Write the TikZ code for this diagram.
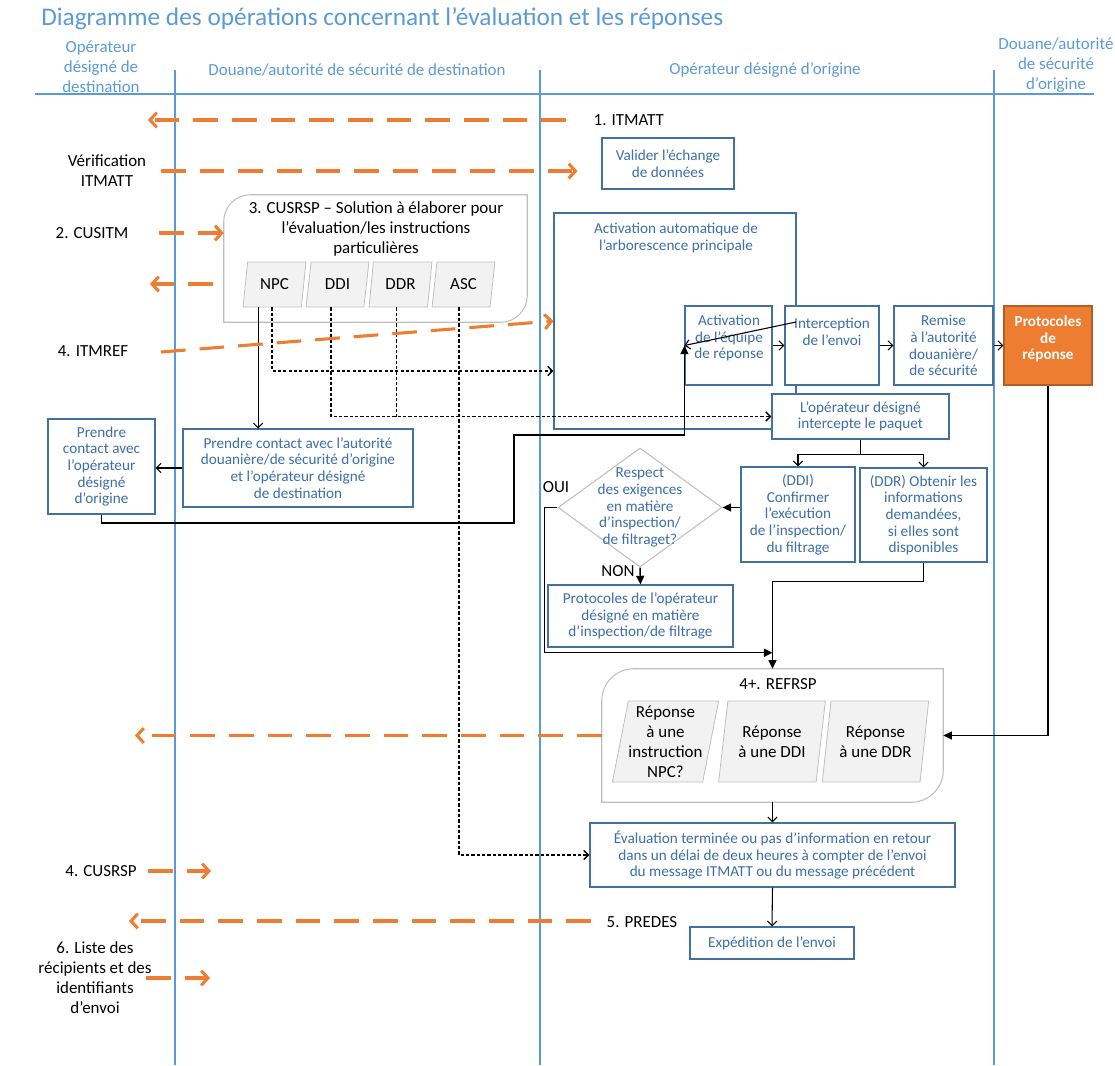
\documentclass[tikz,border=0pt]{standalone}
\usepackage{fontspec}
\setmainfont{Carlito}
\usetikzlibrary{arrows.meta,shapes.geometric,calc}

\definecolor{lanecol}{HTML}{5B9BD5}
\definecolor{boxcol}{HTML}{41719C}
\definecolor{txtcol}{HTML}{3D6FA8}
\definecolor{orangecol}{HTML}{ED7D31}
\definecolor{greyfill}{HTML}{F2F2F2}
\definecolor{greyline}{HTML}{BFBFBF}

\newcommand{\bluesize}{\fontsize{11.4}{12.5}\selectfont}
\newcommand{\lblsize}{\fontsize{12.7}{15}\selectfont}

\begin{document}
\begin{tikzpicture}[x=0.75pt, y=-0.75pt,
	lane/.style={draw=lanecol, line width=0.9pt},
	lanehead/.style={text=lanecol, align=center, font=\lblsize},
	box size/.style 2 args={minimum width=#1*0.75pt, minimum height=#2*0.75pt},
	opbox/.style={draw=boxcol, fill=white, text=txtcol, align=center, font=\bluesize, inner sep=0pt, line width=0.8pt},
	txt/.style={text=txtcol, align=center, font=\bluesize, inner sep=0pt},
	lbl/.style={align=center, font=\lblsize},
	para/.style={trapezium, trapezium left angle=77.5, trapezium right angle=102.5, trapezium stretches=true, draw=greyline, fill=greyfill, font=\lblsize, align=center, inner sep=0pt, line width=0.6pt},
	cframe/.style={draw=greyline, line width=0.8pt},
	msg/.style={draw=orangecol, line width=2.3pt, dash pattern=on 18.5pt off 10.5pt, -{Straight Barb[length=5pt,width=11pt]}},
	flow/.style={draw=black, line width=0.8pt, -{Straight Barb[length=3.5pt,width=7pt]}},
	flowb/.style={draw=black, line width=1.1pt, -{Triangle[length=6.5pt,width=6pt]}},
	dots/.style={draw=black, line width=1.1pt, dash pattern=on 2.4pt off 1.6pt},
	dotflow/.style={dots, -{Straight Barb[length=3.5pt,width=7pt]}}
]
	\useasboundingbox (0,0) rectangle (1115,1065);

	% Titre et couloirs
	\node[font=\fontsize{19}{22}\selectfont, text=lanecol, anchor=west, inner sep=0pt] (title) at (41,19) {Diagramme des opérations concernant l’évaluation et les réponses};
	\draw[lane] (35,94) -- (1094,94);
	\draw[lane] (175,70) -- (175,1065);
	\draw[lane] (540,70) -- (540,1065);
	\draw[lane] (994,70) -- (994,1065);

	\node[lanehead] (hdest) at (101,67) {Opérateur\\désigné de\\destination};
	\node[lanehead] (hdouane) at (357,70) {Douane/autorité de sécurité de destination};
	\node[lanehead] (horig) at (765,70) {Opérateur désigné d’origine};
	\node[lanehead] (hdouorig) at (1056,65) {Douane/autorité\\de sécurité\\d’origine};

	% Messages (textes)
	\node[lbl, anchor=west] (itmatt) at (589,120) {1. ITMATT};
	\node[lbl] (verif) at (107,171) {Vérification\\ITMATT};
	\node[lbl] (cusitm) at (92,233) {2. CUSITM};
	\node[lbl] (itmref) at (93,351) {4. ITMREF};
	\node[lbl] (cusrsp) at (101,871) {4. CUSRSP};
	\node[lbl, anchor=west] (predes) at (602,922) {5. PREDES};
	\node[lbl] (liste) at (95,978) {6. Liste des\\récipients et des\\identifiants\\d’envoi};

	% CUSRSP
	\node[box size={303}{127}] (cusbox) at (375.5,258.5) {};
	\draw[cframe] (cusbox.north east) [rounded corners=20pt] -- (cusbox.south east) [sharp corners] -- (cusbox.south west) [rounded corners=20pt] -- (cusbox.north west) [sharp corners] -- cycle;
	\node[lbl] (custitle) at (376,229) {3. CUSRSP – Solution à élaborer pour\\l’évaluation/les instructions\\particulières};
	\node[para, box size={63}{45}] (npc) at (274.5,284.5) {NPC};
	\node[para, box size={63}{45}] (ddipar) at (337.5,284.5) {DDI};
	\node[para, box size={63}{45}] (ddrpar) at (400.5,284.5) {DDR};
	\node[para, box size={63}{45}] (asc) at (463.5,284.5) {ASC};

	% Boites
	\node[opbox, box size={132}{51}] (valider) at (668,163.5) {Valider l’échange\\de données};
	\node[opbox, box size={242}{216}] (autoact) at (675,321) {};
	\node[txt] (autoacttxt) at (676,238) {Activation automatique de\\l’arborescence principale};
	\node[opbox, box size={87}{79}] (equipe) at (728.5,345.5) {};
	\node[txt] (equipetxt) at (729,338) {Activation\\de l’équipe\\de réponse};
	\node[opbox, box size={94}{79}] (intercept) at (832,345.5) {};
	\node[txt] (intercepttxt) at (832,331.5) {Interception\\de l’envoi};
	\node[opbox, box size={99}{79}] (remise) at (943.5,345.5) {Remise\\à l’autorité\\douanière/\\de sécurité};
	\node[opbox, box size={88}{79}, fill=orangecol, draw=orangecol!75!black] (protoresp) at (1048,345.5) {};
	\node[txt, text=white, font=\bluesize\bfseries] (protoresptxt) at (1048,339) {Protocoles\\de\\réponse};
	\node[opbox, box size={177}{45}] (paquet) at (860.5,416.5) {L’opérateur désigné\\intercepte le paquet};
	\node[opbox, box size={230}{78}] (contactaut) at (298,468) {Prendre contact avec l’autorité\\douanière/de sécurité d’origine\\et l’opérateur désigné\\de destination};
	\node[opbox, box size={107}{95}] (contactop) at (101.5,466.5) {Prendre\\contact avec\\l’opérateur\\désigné\\d’origine};
	\node[opbox, box size={114}{95}] (confddi) at (798,514.5) {(DDI)\\Confirmer\\l’exécution\\de l’inspection/\\du filtrage};
	\node[opbox, box size={127}{94}] (obtddr) at (923.5,515) {(DDR) Obtenir les\\informations\\demandées,\\si elles sont\\disponibles};
	\node[diamond, draw=greyline, box size={164}{119}, inner sep=0pt, line width=0.8pt] (respect) at (640,507.5) {};
	\node[txt] (respecttxt) at (640,507.5) {Respect\\des exigences\\en matière\\d’inspection/\\de filtraget?};
	\node[lbl] (oui) at (556,487) {OUI};
	\node[lbl] (non) at (618,571) {NON};
	\node[opbox, box size={185}{62}] (protoop) at (640.5,616) {Protocoles de l’opérateur\\désigné en matière\\d’inspection/de filtrage};

	% REFRSP
	\node[box size={341}{133}] (refbox) at (772.5,735.5) {};
	\draw[cframe] (refbox.north east) [rounded corners=24pt] -- (refbox.south east) [sharp corners] -- (refbox.south west) [rounded corners=24pt] -- (refbox.north west) [sharp corners] -- cycle;
	\node[lbl] (reftitle) at (778,684) {4+. REFRSP};
	\node[para, box size={107}{81}] (repnpc) at (665.5,741.5) {Réponse\\à une\\instruction\\NPC?};
	\node[para, box size={107}{81}] (repddi) at (772,741.5) {Réponse\\à une DDI};
	\node[para, box size={107}{81}] (repddr) at (875.5,741.5) {Réponse\\à une DDR};

	\node[opbox, box size={365}{64}] (eval) at (772.5,855) {Évaluation terminée ou pas d’information en retour\\dans un délai de deux heures à compter de l’envoi\\du message ITMATT ou du message précédent};
	\node[opbox, box size={164}{32}] (expe) at (772,943) {Expédition de l’envoi};

	% Liaisons
	\coordinate (npcline) at ($(npc.bottom side)+(-14,0)$);
	\coordinate (ddiline) at ($(ddipar.bottom side)+(-4,0)$);
	\coordinate (ddrline) at ($(ddrpar.bottom side)+(-2,0)$);
	\coordinate (ascline) at ($(asc.bottom side)+(-2,0)$);
	\draw[flow] (npcline) -- (npcline |- contactaut.north);
	\draw[dotflow] (npc.bottom side) |- ($(autoact.west)+(0,50)$);
	\draw[dotflow] (ddiline) |- (paquet.west);
	\draw[dots] (ddrline) -- (ddrline |- paquet.west);
	\draw[dotflow] (ascline) |- (eval.west);

	\draw[flow] (contactaut.west) -- (contactaut.west -| contactop.east);
	\coordinate (oprise) at (514,435);
	\draw[flowb] (contactop.south) -- ++(0,8.5) -| (oprise) -| (equipe.west);
	\coordinate (diagfrom) at (796,322);
	\draw[flow] (diagfrom) -- (equipe.west);
	\draw[flow] (equipe.east) -- (intercept.west);
	\draw[flow] (intercept.east) -- (remise.west);
	\draw[flow] (remise.east) -- (protoresp.west);

	\draw[flow] (paquet.south) -- ++(0,14.5) -| (confddi.north);
	\draw[flow] (paquet.south) -- ++(0,14.5) -| (obtddr.north);
	\draw[flowb] (confddi.west |- respect.east) -- (respect.east);
	\draw[flowb] (respect.west) -- ++(-13,0) |- ($(refbox.north)+(0,-16)$);
	\draw[flowb] (obtddr.south) -- ++(0,19) -| (refbox.north);
	\draw[flowb] (respect.south) -- (protoop.north);
	\draw[flowb] (protoresp.south) |- (refbox.east);
	\draw[flow] (refbox.south) -- (eval.north);
	\draw[flow] (eval.south) -- (expe.north);

	% Fleches orange
	\coordinate (m1a) at (566,120);
	\coordinate (m1b) at (148,120);
	\coordinate (m2a) at (161,171);
	\coordinate (m3a) at (159,233);
	\coordinate (m4b) at (150,284);
	\coordinate (m5a) at (161,352);
	\coordinate (m6b) at (135,735.5);
	\coordinate (m7a) at (148,871);
	\coordinate (m7b) at (211,871);
	\coordinate (m8a) at (591,921);
	\coordinate (m8b) at (129,921);
	\coordinate (m9a) at (146,978);
	\coordinate (m9b) at (210,978);
	\draw[msg] (m1a) -- (m1b);
	\draw[msg] (m2a) -- ($(valider.west |- m2a)+(-24,0)$);
	\draw[msg] (m3a) -- (cusbox.west |- m3a);
	\draw[msg] ($(cusbox.west |- m4b)+(-11,0)$) -- (m4b);
	\draw[msg] (m5a) -- (autoact.west);
	\draw[msg] (refbox.west) -- (m6b);
	\draw[msg] (m7a) -- (m7b);
	\draw[msg] (m8a) -- (m8b);
	\draw[msg] (m9a) -- (m9b);
\end{tikzpicture}
\end{document}
